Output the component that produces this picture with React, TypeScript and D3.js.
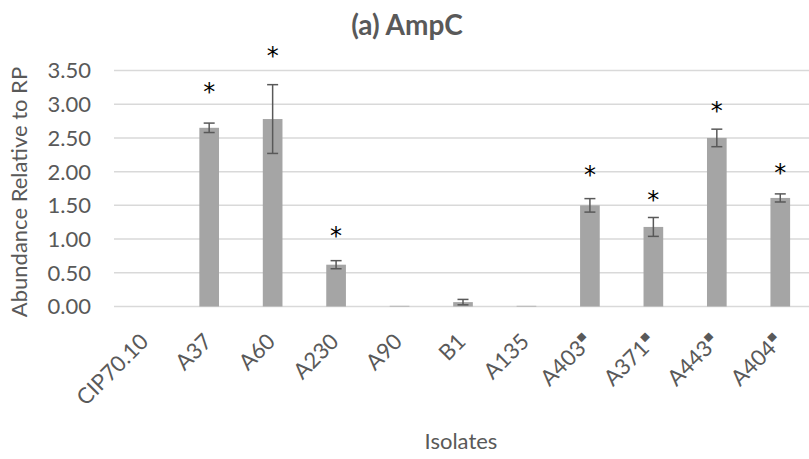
import React from "react";
import * as d3 from "d3";

const categories = ["CIP70.10", "A37", "A60", "A230", "A90", "B1", "A135", "A403", "A371", "A443", "A404"];
const marked = [false, false, false, false, false, false, false, true, true, true, true];
const values = [0, 2.65, 2.78, 0.62, 0.01, 0.065, 0.01, 1.5, 1.18, 2.5, 1.61];
const errors = [0, 0.07, 0.51, 0.06, 0, 0.04, 0, 0.1, 0.14, 0.13, 0.06];
const starLevels = [null, 3.24, 3.77, 1.1, null, null, null, 2.01, 1.64, 2.96, 2.04];
const yTicks = [0, 0.5, 1, 1.5, 2, 2.5, 3, 3.5];

const W = 809;
const H = 459;
const FONT = "Lato, 'Open Sans', sans-serif";
const TEXT = "#595959";

export default function App() {
  const x = d3
    .scaleBand<string>()
    .domain(categories)
    .range([114, 812])
    .paddingInner(0.69)
    .paddingOuter(0.345);
  const y = d3.scaleLinear().domain([0, 3.5]).range([306.5, 70.5]);
  const fmt = d3.format(".2f");
  const bw = x.bandwidth();
  const capW = 11;
  const starFs = 24;

  return (
    <svg
      width={W}
      height={H}
      style={{ position: "absolute", left: 0, top: 0, background: "#fff" }}
      fontFamily={FONT}
    >
      <rect x={0} y={0} width={W} height={H} fill="#fff" />
      {yTicks.map((t) => (
        <g key={t}>
          <line x1={114} x2={812} y1={y(t)} y2={y(t)} stroke="#d9d9d9" strokeWidth={1.5} />
          <text x={91} y={y(t)} dy="0.36em" textAnchor="end" fontSize={22} fill={TEXT}>
            {fmt(t)}
          </text>
        </g>
      ))}
      {categories.map((c, i) => {
        const cx = (x(c) as number) + bw / 2;
        const v = values[i];
        const e = errors[i];
        return (
          <g key={c}>
            {v > 0 && (
              <rect x={x(c)} y={y(v)} width={bw} height={y(0) - y(v)} fill="#a5a5a5" />
            )}
            {e > 0 && (
              <g stroke="#595959" strokeWidth={1.5}>
                <line x1={cx} x2={cx} y1={y(v + e)} y2={y(v - e)} />
                <line x1={cx - capW / 2} x2={cx + capW / 2} y1={y(v + e)} y2={y(v + e)} />
                <line x1={cx - capW / 2} x2={cx + capW / 2} y1={y(v - e)} y2={y(v - e)} />
              </g>
            )}
            {starLevels[i] !== null && (
              <text
                x={cx}
                y={y(starLevels[i] as number) + starFs * 0.5}
                textAnchor="middle"
                fontSize={starFs}
                fontFamily="'DejaVu Sans', sans-serif"
                fill="#000"
              >
                *
              </text>
            )}
            <text
              transform={`translate(${cx + 4},343) rotate(-45)`}
              textAnchor="end"
              fontSize={22}
              fill={TEXT}
            >
              {c}
              {marked[i] && (
                <tspan fontSize={14} dy={-9} fontFamily="'DejaVu Sans', sans-serif">
                  ▪
                </tspan>
              )}
            </text>
          </g>
        );
      })}
      <text x={461} y={449} textAnchor="middle" fontSize={22} fill={TEXT}>
        Isolates
      </text>
      <text
        transform="translate(27,192) rotate(-90)"
        textAnchor="middle"
        fontSize={22}
        fill={TEXT}
      >
        Abundance Relative to RP
      </text>
      <text x={407} y={35} textAnchor="middle" fontSize={28} fontWeight="bold" fill={TEXT}>
        (a) AmpC
      </text>
    </svg>
  );
}
